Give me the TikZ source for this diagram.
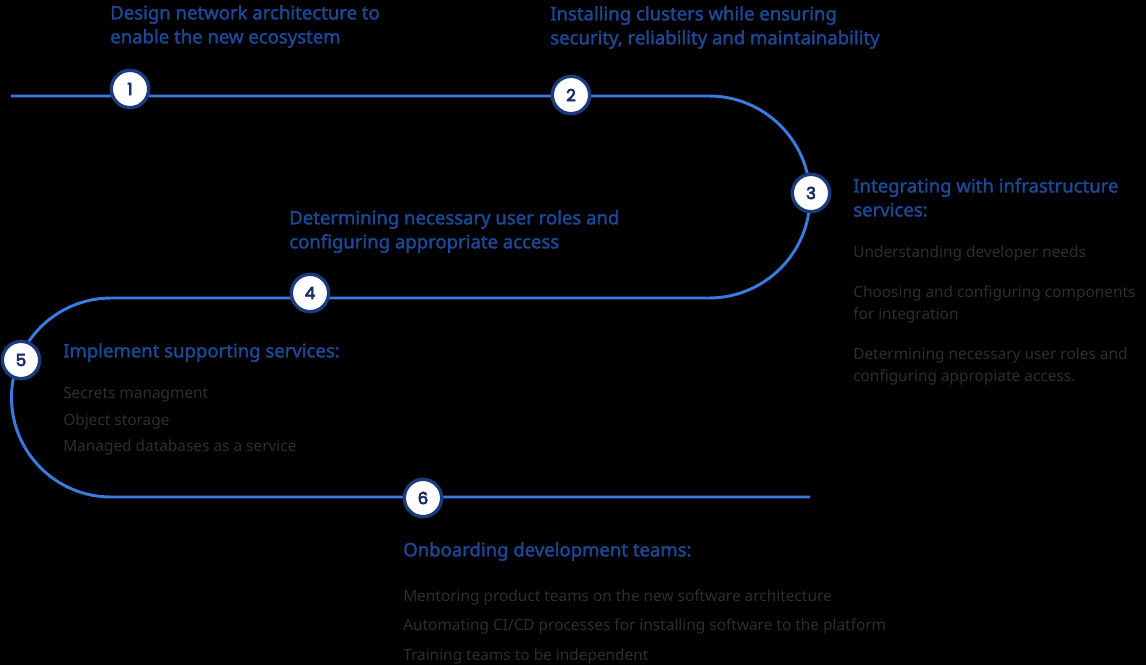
\documentclass[tikz,border=0pt]{standalone}
\usepackage{fontspec}
\setmainfont{Noto Sans}
\newfontfamily\headfont{Noto Sans}[FakeBold=1.8]
\newfontfamily\numfont{Poppins}[FakeBold=4]
\usetikzlibrary{positioning}

\definecolor{trackblue}{HTML}{3A7BE0}
\definecolor{headblue}{HTML}{1E4896}
\definecolor{ringblue}{HTML}{1B3B7E}
\definecolor{numblue}{HTML}{1B2F66}
\definecolor{bodygray}{HTML}{2E2E2E}

\begin{document}
\begin{tikzpicture}[x=0.75pt, y=-0.75pt,
    stepnum/.style={circle, draw=ringblue, line width=2.5pt, fill=white,
        minimum size=28pt, inner sep=0pt, text=numblue,
        font=\numfont\fontsize{12.5}{12.5}\selectfont},
    headtxt/.style={anchor=west, align=left, inner sep=0pt, text=headblue,
        font=\headfont\fontsize{13.9}{18}\selectfont},
    bodytxt/.style={anchor=west, align=left, inner sep=0pt, text=bodygray,
        font=\fontsize{11.55}{16.5}\selectfont},
    track/.style={trackblue, line width=2.2pt}]

    \fill[black] (0,0) rectangle (1146,665);
    \useasboundingbox (0,0) rectangle (1146,665);

    % the winding track
    \coordinate (start) at (11,96);
    \coordinate (rturn) at (709,96);
    \coordinate (lturn) at (111,298);
    \coordinate (finish) at (810,497);
    \draw[track] (start) -- (rturn)
        arc[start angle=90, end angle=-90, radius=75.75pt] -- (lturn)
        arc[start angle=90, end angle=270, radius=74.625pt] -- (finish);

    % step markers
    \node[stepnum] (c1) at (130,89) {1};
    \node[stepnum] (c2) at (571,95) {2};
    \node[stepnum] (c3) at (811,193) {3};
    \node[stepnum] (c4) at (310,293) {4};
    \node[stepnum] (c5) at (21,360) {5};
    \node[stepnum] (c6) at (423,498) {6};

    % headings
    \node[headtxt] (h1) at (110,26.5) {Design network architecture to\\enable the new ecosystem};
    \node[headtxt] (h2) at (550,27.5) {Installing clusters while ensuring\\security, reliability and maintainability};
    \node[headtxt] (h3) at (853,197.5) {Integrating with infrastructure\\services:};
    \node[headtxt] (h4) at (289,231.5) {Determining necessary user roles and\\configuring appropriate access};
    \node[headtxt] (h5) at (63,352.5) {Implement supporting services:};
    \node[headtxt] (h6) at (403,551.5) {Onboarding development teams:};

    % details
    \node[bodytxt] (b3) at (853,315) {Understanding developer needs\\[13.5pt]
        Choosing and configuring components\\for integration\\[13.5pt]
        Determining necessary user roles and\\configuring appropiate access.};
    \node[bodytxt] (b5) at (63,421.5) {Secrets managment\\[3.4pt]
        Object storage\\[3.4pt]
        Managed databases as a service};
    \node[bodytxt] (b6) at (403,626.5) {Mentoring product teams on the new software architecture\\[5.6pt]
        Automating CI/CD processes for installing software to the platform\\[5.6pt]
        Training teams to be independent};
\end{tikzpicture}
\end{document}
